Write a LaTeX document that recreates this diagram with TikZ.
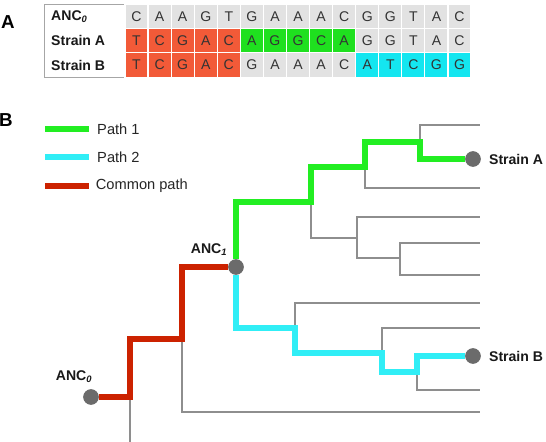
\documentclass[tikz,border=0pt]{standalone}
\usepackage{fontspec}
\setmainfont{Liberation Sans}
\usepackage{xcolor}
\usepackage{tikz}
\usetikzlibrary{positioning}
\definecolor{cRed}{HTML}{F25A38}
\definecolor{cGreen}{HTML}{1FE01F}
\definecolor{cCyan}{HTML}{14E6F0}
\definecolor{cGray}{HTML}{E2E2E2}
\definecolor{pGreen}{HTML}{22EE22}
\definecolor{pCyan}{HTML}{30EEF6}
\definecolor{pRed}{HTML}{CC2200}
\definecolor{tGray}{HTML}{8E8E8E}
\definecolor{cDot}{HTML}{6B6B6B}

\begin{document}
\begin{tikzpicture}[x=0.03cm,y=-0.03cm]
  \tikzset{
    cell/.style={draw=white, line width=1pt, minimum width=6.92mm, minimum height=7.3mm,
      inner sep=0pt, text=black!80, font=\fontsize{12}{14}\selectfont},
    rowlbl/.style={anchor=west, inner sep=0pt, text=black!90, font=\bfseries\fontsize{12}{14}\selectfont},
    panel/.style={inner sep=0pt, font=\bfseries\fontsize{16}{18}\selectfont},
    legtxt/.style={anchor=west, inner sep=0pt, text=black!85, font=\fontsize{12.5}{14}\selectfont},
    branch/.style={draw=tGray, line width=1.6pt},
    thick path/.style={line width=4.3pt},
    dot/.style={circle, fill=cDot, minimum size=4.6mm, inner sep=0pt},
    tiplbl/.style={inner sep=0pt, text=black!90, font=\bfseries\fontsize{12}{14}\selectfont},
  }
  \useasboundingbox (0,0) rectangle (546,442);
  \fill[white] (0,0) rectangle (546,442);

  % (A) alignment table
  \node[panel] (pA) at (8,22) {A};
  \draw[black!35, line width=0.6pt] (44,4) rectangle (471,77);
  \node[rowlbl] (r0) at (51,16.3) {ANC\textsubscript{\textit{0}}};
  \node[rowlbl] (r1) at (51,40.7) {Strain A};
  \node[rowlbl] (r2) at (51,65) {Strain B};
  \foreach \ch [count=\i] in {C,A,A,G,T,G,A,A,A,C,G,G,T,A,C}
    \node[cell, fill=cGray] (a\i) at ({125+23.07*(\i-0.5)},16.3) {\ch};
  \foreach \ch/\cl [count=\i] in {T/cRed,C/cRed,G/cRed,A/cRed,C/cRed,
      A/cGreen,G/cGreen,G/cGreen,C/cGreen,A/cGreen,
      G/cGray,G/cGray,T/cGray,A/cGray,C/cGray}
    \node[cell, fill=\cl] (b\i) at ({125+23.07*(\i-0.5)},40.7) {\ch};
  \foreach \ch/\cl [count=\i] in {T/cRed,C/cRed,G/cRed,A/cRed,C/cRed,
      G/cGray,A/cGray,A/cGray,A/cGray,C/cGray,
      A/cCyan,T/cCyan,C/cCyan,G/cCyan,G/cCyan}
    \node[cell, fill=\cl] (s\i) at ({125+23.07*(\i-0.5)},65) {\ch};

  % (B) legend
  \node[panel] (pB) at (6,120) {B};
  \coordinate (k1a) at (45,129); \coordinate (k1b) at (89,129);
  \coordinate (k2a) at (45,157); \coordinate (k2b) at (89,157);
  \coordinate (k3a) at (45,186); \coordinate (k3b) at (89,186);
  \draw[thick path, pGreen] (k1a) -- (k1b);
  \draw[thick path, pCyan] (k2a) -- (k2b);
  \draw[thick path, pRed] (k3a) -- (k3b);
  \node[legtxt, right=0.24cm of k1b] (t1) {Path 1};
  \node[legtxt, right=0.24cm of k2b] (t2) {Path 2};
  \node[legtxt, right=0.2cm of k3b] (t3) {Common path};

  % tree: tips and junctions
  \node[dot] (anc0) at (91,397) {};
  \node[dot] (anc1) at (236,267) {};
  \node[dot] (sA) at (473,159) {};
  \node[dot] (sB) at (473,356) {};
  \coordinate (j1) at (130,397);
  \coordinate (j2) at (182,339);
  \coordinate (g1) at (311,202);
  \coordinate (g2) at (365,167);
  \coordinate (g3) at (420,142);
  \coordinate (gx) at (357,238);
  \coordinate (gy) at (400,258);
  \coordinate (c1) at (295,328);
  \coordinate (c2) at (382,353);
  \coordinate (c3) at (417,372);
  \coordinate (l0) at (130,442);
  \coordinate (l1) at (480,412);
  \coordinate (l2) at (480,217);
  \coordinate (l3) at (480,243);
  \coordinate (l4) at (480,275);
  \coordinate (l5) at (480,188);
  \coordinate (l6) at (480,125);
  \coordinate (l7) at (480,303);
  \coordinate (l8) at (480,328);
  \coordinate (l9) at (480,390);

  % grey branches
  \draw[branch] (j1) -- (l0);
  \draw[branch] (j2) |- (l1);
  \draw[branch] (g1) |- (gx) |- (l2);
  \draw[branch] (gx) |- (gy) |- (l3);
  \draw[branch] (gy) |- (l4);
  \draw[branch] (g2) |- (l5);
  \draw[branch] (g3) |- (l6);
  \draw[branch] (c1) |- (l7);
  \draw[branch] (c2) |- (l8);
  \draw[branch] (c3) |- (l9);

  % coloured paths
  \draw[thick path, pRed] (anc0) -- (j1) |- (j2) |- (anc1);
  \draw[thick path, pGreen] (anc1) |- (g1) |- (g2) |- (g3) |- (sA);
  \draw[thick path, pCyan] (anc1) |- (c1) |- (c2) |- (c3) |- (sB);
  \foreach \n in {anc0,anc1,sA,sB} \node[dot] at (\n) {};

  \node[tiplbl] (lA) at (74,377) {ANC\textsubscript{\textit{0}}};
  \node[tiplbl] (lB) at (209,250) {ANC\textsubscript{\textit{1}}};
  \node[tiplbl, anchor=west, right=0.24cm of sA] (lsA) {Strain A};
  \node[tiplbl, anchor=west, right=0.24cm of sB] (lsB) {Strain B};
\end{tikzpicture}
\end{document}
